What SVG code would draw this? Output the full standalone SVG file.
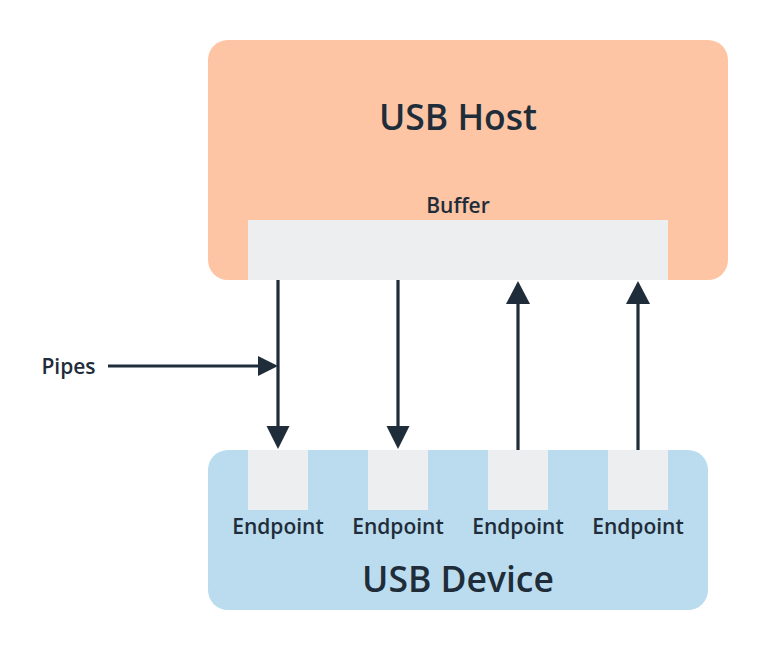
<svg xmlns="http://www.w3.org/2000/svg" width="768" height="650" viewBox="0 0 768 650">
<defs>
<style>
.t{font-family:"Open Sans","Noto Sans","Liberation Sans",sans-serif;font-weight:600;fill:#1f2d3a;text-anchor:middle}
.big{font-size:35.5px}
.sm{font-size:21px}
.slot{fill:#eceef0}
.ln{stroke:#1f2d3a;stroke-width:3.2;fill:none}
.ah{fill:#1f2d3a}
</style>
</defs>
<rect width="768" height="650" fill="#ffffff"/>
<g id="host">
<rect x="208" y="40" width="520" height="240" rx="20" fill="#fec5a5"/>
<text class="t big" x="458" y="130">USB Host</text>
</g>
<g id="buffer">
<text class="t sm" x="458" y="213">Buffer</text>
<rect class="slot" x="248" y="220" width="420" height="60"/>
</g>
<g id="device">
<rect x="208" y="450" width="500" height="160" rx="20" fill="#bbdcee"/>
<text class="t big" x="458" y="592">USB Device</text>
</g>
<g id="ep1"><rect class="slot" x="248" y="450" width="60" height="60"/><text class="t sm" x="278" y="534">Endpoint</text></g>
<g id="ep2"><rect class="slot" x="368" y="450" width="60" height="60"/><text class="t sm" x="398" y="534">Endpoint</text></g>
<g id="ep3"><rect class="slot" x="488" y="450" width="60" height="60"/><text class="t sm" x="518" y="534">Endpoint</text></g>
<g id="ep4"><rect class="slot" x="608" y="450" width="60" height="60"/><text class="t sm" x="638" y="534">Endpoint</text></g>
<g id="pipes-label"><text class="t sm" x="68.5" y="374">Pipes</text></g>
<g id="connectors">
<line class="ln" x1="278" y1="280" x2="278" y2="430"/>
<polygon class="ah" points="266.5,426 289.5,426 278,449"/>
<line class="ln" x1="398" y1="280" x2="398" y2="430"/>
<polygon class="ah" points="386.5,426 409.5,426 398,449"/>
<line class="ln" x1="518" y1="450" x2="518" y2="300"/>
<polygon class="ah" points="506,304 530,304 518,281"/>
<line class="ln" x1="638" y1="450" x2="638" y2="300"/>
<polygon class="ah" points="626,304 650,304 638,281"/>
<line class="ln" x1="108" y1="366" x2="262" y2="366"/>
<polygon class="ah" points="258,356 258,376 278,366"/>
</g>
</svg>
